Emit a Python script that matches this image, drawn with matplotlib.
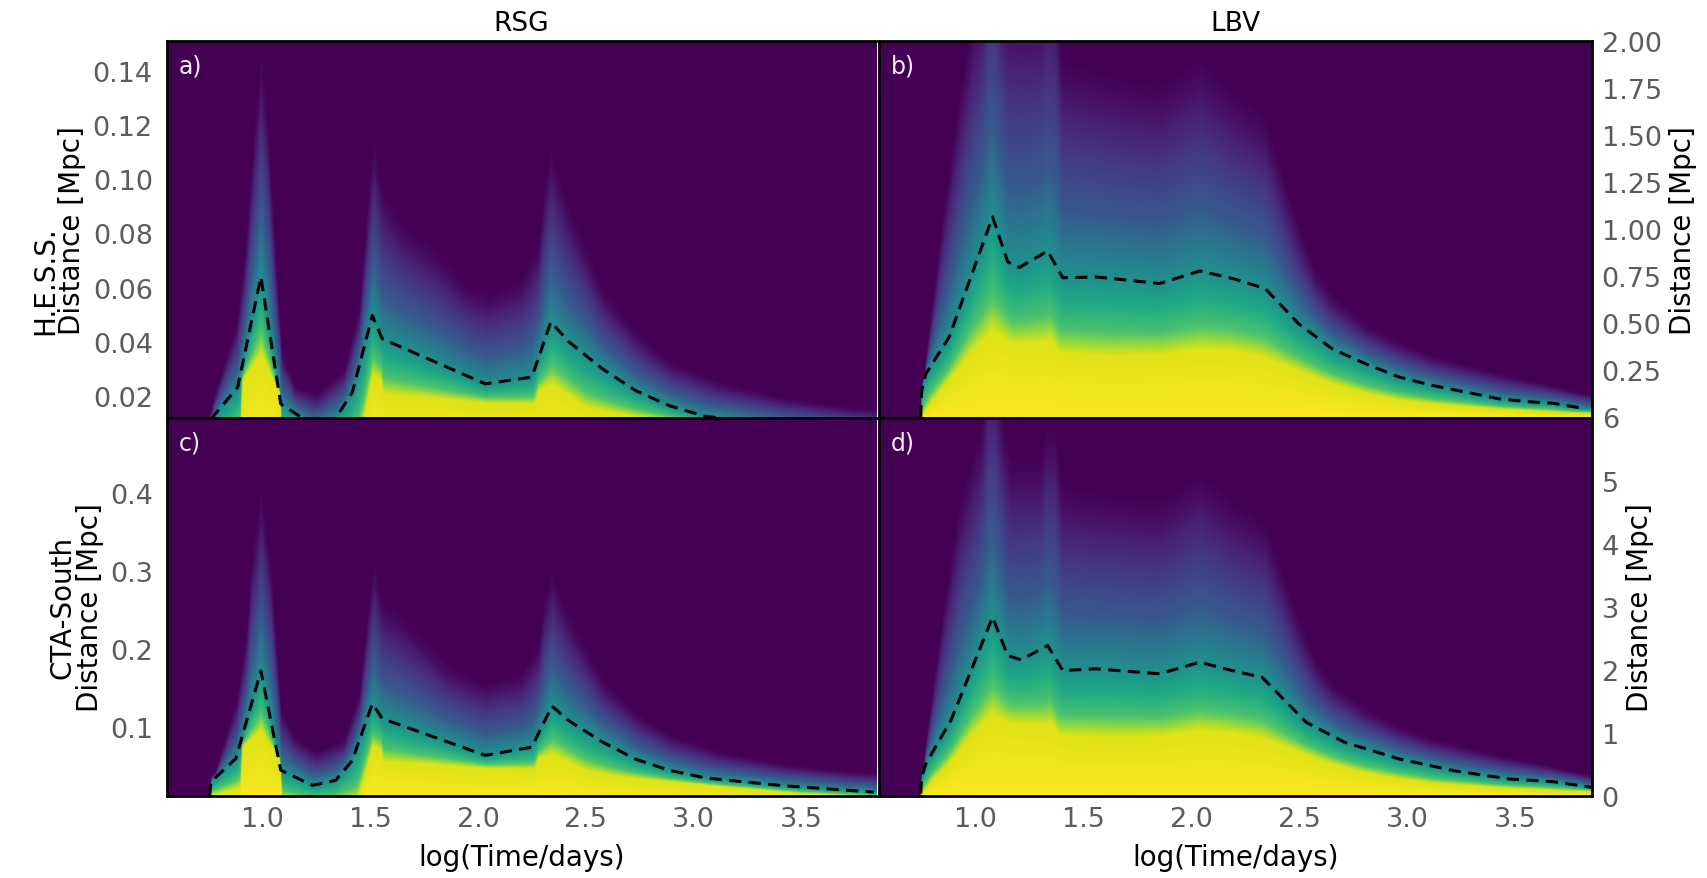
import numpy as np
import matplotlib
matplotlib.use("Agg")
import matplotlib.pyplot as plt

# ---------------- values ----------------
xticks = [1.0, 1.5, 2.0, 2.5, 3.0, 3.5]
xticklabels = ["1.0", "1.5", "2.0", "2.5", "3.0", "3.5"]
col_titles = ["RSG", "LBV"]
row_labels = ["H.E.S.S.\nDistance [Mpc]", "CTA-South\nDistance [Mpc]"]
right_label = "Distance [Mpc]"
x_label = "log(Time/days)"
panel_tags = ["a)", "b)", "c)", "d)"]

xlim_left = (0.556, 3.849)
xlim_right = (0.553, 3.855)

# ---- panel a : RSG, H.E.S.S. ----
a_ylim = (0.0121, 0.151)
a_yticks = [0.02, 0.04, 0.06, 0.08, 0.10, 0.12, 0.14]
a_yticklabels = ["0.02", "0.04", "0.06", "0.08", "0.10", "0.12", "0.14"]
a_start = 0.755
a_line_x = [0.761, 0.885, 0.993, 1.085, 1.232, 1.340, 1.417, 1.510, 1.556, 2.034, 2.250,
            2.338, 2.423, 2.578, 2.732, 2.886, 3.056, 3.421, 3.837]
a_line_d = [0.0115, 0.0232, 0.0639, 0.0171, 0.0095, 0.0119, 0.0213, 0.0497, 0.0411, 0.0245, 0.0270,
            0.0473, 0.0399, 0.0300, 0.0220, 0.0165, 0.0125, 0.0093, 0.0063]
a_sat_x = [0.755, 0.895, 0.905, 0.993, 1.08, 1.09, 1.25, 1.44, 1.47, 1.51, 1.55, 1.56, 2.05,
           2.26, 2.28, 2.346, 2.50, 2.655, 2.886, 3.2, 3.5, 3.85]
a_sat_d = [0.0, 0.006, 0.026, 0.0356, 0.021, 0.003, 0.002, 0.004, 0.012, 0.028, 0.026, 0.021, 0.0175,
           0.0171, 0.022, 0.0245, 0.016, 0.0134, 0.011, 0.008, 0.0055, 0.004]
a_tail_x = [0.755, 0.78, 0.88, 0.915, 0.966, 0.993, 1.023, 1.062, 1.09, 1.15, 1.25, 1.38, 1.45,
            1.494, 1.517, 1.556, 1.65, 1.80, 1.95, 2.05, 2.20, 2.28, 2.31, 2.338, 2.38, 2.423,
            2.578, 2.732, 2.886, 3.118, 3.426, 3.735, 3.85]
a_tail_d = [0.012, 0.020, 0.044, 0.065, 0.114, 0.135, 0.114, 0.065, 0.034, 0.022, 0.019, 0.028, 0.050,
            0.090, 0.106, 0.088, 0.077, 0.068, 0.056, 0.053, 0.058, 0.070, 0.090, 0.103, 0.092, 0.0823,
            0.0553, 0.0405, 0.0306, 0.0233, 0.0177, 0.0146, 0.0140]

# ---- panel b : LBV, H.E.S.S. ----
b_ylim = (0.0, 2.0)
b_yticks = [0.25, 0.50, 0.75, 1.00, 1.25, 1.50, 1.75, 2.00]
b_yticklabels = ["0.25", "0.50", "0.75", "1.00", "1.25", "1.50", "1.75", "2.00"]
b_start = 0.746
b_line_x = [0.746, 0.750, 0.770, 0.878, 1.079, 1.149, 1.203, 1.334, 1.404, 1.559, 1.853, 2.039,
            2.200, 2.342, 2.496, 2.651, 2.806, 2.961, 3.115, 3.270, 3.425, 3.580, 3.673, 3.827]
b_line_d = [0.0, 0.14, 0.232, 0.427, 1.065, 0.826, 0.796, 0.884, 0.742, 0.746, 0.711, 0.778,
            0.735, 0.684, 0.498, 0.365, 0.285, 0.215, 0.170, 0.135, 0.099, 0.082, 0.076, 0.046]
b_sat_x = [0.746, 0.80, 0.862, 0.986, 1.079, 1.126, 1.172, 1.327, 1.345, 1.389, 1.636, 1.868,
           2.039, 2.187, 2.317, 2.496, 2.651, 2.806, 2.961, 3.115, 3.425, 3.735, 3.85]
b_sat_d = [0.0, 0.09, 0.179, 0.356, 0.462, 0.427, 0.392, 0.40, 0.42, 0.347, 0.33, 0.338,
           0.365, 0.356, 0.33, 0.25, 0.18, 0.13, 0.095, 0.073, 0.046, 0.028, 0.025]
b_tail_x = [0.746, 0.77, 0.85, 0.93, 0.985, 1.03, 1.06, 1.09, 1.125, 1.16, 1.30, 1.33,
            1.37, 1.40, 1.6, 1.85, 2.04, 2.187, 2.342, 2.419, 2.496, 2.574, 2.651, 2.806,
            2.961, 3.115, 3.425, 3.657, 3.85]
b_tail_d = [0.02, 0.30, 1.0, 1.6, 1.95, 2.1, 2.45, 2.45, 2.15, 2.02, 2.02, 2.15,
            2.12, 1.75, 1.68, 1.62, 1.76, 1.60, 1.47, 1.207, 0.941, 0.728, 0.604, 0.462,
            0.374, 0.303, 0.215, 0.161, 0.11]

# ---- panel c : RSG, CTA-South ----
c_ylim = (0.012, 0.496)
c_yticks = [0.1, 0.2, 0.3, 0.4]
c_yticklabels = ["0.1", "0.2", "0.3", "0.4"]
c_start = 0.755
c_line_x = [0.755, 0.761, 0.877, 0.993, 1.085, 1.232, 1.340, 1.417, 1.510, 1.556, 2.034, 2.250,
            2.343, 2.423, 2.578, 2.732, 2.886, 3.056, 3.421, 3.837]
c_line_d = [0.012, 0.030, 0.060, 0.172, 0.045, 0.0256, 0.032, 0.0575, 0.130, 0.111, 0.064, 0.0745,
            0.127, 0.108, 0.081, 0.059, 0.045, 0.035, 0.025, 0.017]
c_sat_x = [0.755, 0.895, 0.905, 0.993, 1.08, 1.09, 1.25, 1.44, 1.47, 1.51, 1.55, 1.56, 2.05,
           2.26, 2.28, 2.346, 2.50, 2.655, 2.886, 3.2, 3.5, 3.85]
c_sat_d = [0.012, 0.022, 0.075, 0.095, 0.058, 0.008, 0.003, 0.008, 0.035, 0.075, 0.07, 0.056, 0.047,
           0.046, 0.06, 0.066, 0.044, 0.036, 0.030, 0.022, 0.015, 0.011]
c_tail_x = [0.755, 0.78, 0.88, 0.923, 0.946, 0.993, 1.039, 1.062, 1.085, 1.15, 1.25, 1.38, 1.45,
            1.494, 1.517, 1.556, 1.633, 1.864, 2.034, 2.20, 2.28, 2.31, 2.343, 2.38, 2.423,
            2.578, 2.732, 2.886, 3.118, 3.426, 3.735, 3.85]
c_tail_d = [0.015, 0.040, 0.126, 0.198, 0.283, 0.372, 0.283, 0.198, 0.113, 0.080, 0.062, 0.078, 0.135,
            0.243, 0.287, 0.238, 0.224, 0.164, 0.143, 0.155, 0.189, 0.243, 0.276, 0.248, 0.222,
            0.149, 0.109, 0.083, 0.063, 0.048, 0.039, 0.037]

# ---- panel d : LBV, CTA-South ----
d_ylim = (0.0, 6.0)
d_yticks = [0, 1, 2, 3, 4, 5, 6]
d_yticklabels = ["0", "1", "2", "3", "4", "5", "6"]
d_start = 0.746
d_line_x = [0.746, 0.750, 0.770, 0.886, 1.079, 1.149, 1.211, 1.334, 1.404, 1.559, 1.853, 2.039,
            2.187, 2.328, 2.532, 2.710, 2.963, 3.217, 3.472, 3.675, 3.853]
d_line_d = [0.04, 0.30, 0.512, 1.198, 2.834, 2.227, 2.158, 2.385, 1.989, 2.016, 1.937, 2.121,
            1.99, 1.879, 1.167, 0.85, 0.586, 0.40, 0.269, 0.227, 0.137]
d_sat_x = [0.746, 0.80, 0.862, 0.986, 1.079, 1.126, 1.172, 1.327, 1.345, 1.389, 1.636, 1.868,
           2.039, 2.187, 2.317, 2.496, 2.651, 2.806, 2.961, 3.115, 3.425, 3.735, 3.85]
d_sat_d = [0.0, 0.25, 0.45, 0.98, 1.30, 1.20, 1.145, 1.12, 1.17, 0.96, 0.93, 0.95,
           1.04, 1.0, 0.93, 0.70, 0.50, 0.36, 0.27, 0.20, 0.13, 0.08, 0.07]
d_tail_x = [0.746, 0.77, 0.85, 0.93, 0.985, 1.03, 1.06, 1.09, 1.125, 1.16, 1.30, 1.33,
            1.37, 1.40, 1.6, 1.85, 2.04, 2.187, 2.342, 2.419, 2.496, 2.574, 2.651, 2.806,
            2.961, 3.115, 3.425, 3.657, 3.85]
d_tail_d = [0.05, 0.80, 2.70, 4.30, 4.9, 5.4, 6.5, 6.5, 5.5, 4.9, 4.9, 5.4,
            5.35, 4.5, 4.4, 4.3, 4.7, 4.30, 3.97, 3.30, 2.60, 2.00, 1.65, 1.28,
            1.02, 0.83, 0.59, 0.44, 0.30]


# ---------------- field built from the read curves ----------------
def detection_map(xg, dg, x_start, sx, sd, lx, ld, tx, td):
    S = np.interp(xg, sx, sd)
    M = np.interp(xg, lx, ld)
    T = np.interp(xg, tx, td)
    S = np.maximum(S, 1e-6)
    M = np.maximum(M, S * 1.1 + 1e-6)
    T = np.maximum(T, M * 1.2)
    Z = np.zeros((dg.size, xg.size))
    vals = [1.0, 0.95, 0.72, 0.5, 0.28, 0.04, 0.0]
    for j in range(xg.size):
        if xg[j] < x_start:
            continue
        s, m, t = S[j], M[j], T[j]
        knots = [0.0, s, s + 0.3 * (m - s), m, m + 0.35 * (t - m), t, t * 1.1]
        Z[:, j] = np.interp(dg, knots, vals)
    return Z


panels = [
    dict(ylim=a_ylim, yt=a_yticks, ytl=a_yticklabels, start=a_start, line=(a_line_x, a_line_d),
         sat=(a_sat_x, a_sat_d), tail=(a_tail_x, a_tail_d), xlim=xlim_left),
    dict(ylim=b_ylim, yt=b_yticks, ytl=b_yticklabels, start=b_start, line=(b_line_x, b_line_d),
         sat=(b_sat_x, b_sat_d), tail=(b_tail_x, b_tail_d), xlim=xlim_right),
    dict(ylim=c_ylim, yt=c_yticks, ytl=c_yticklabels, start=c_start, line=(c_line_x, c_line_d),
         sat=(c_sat_x, c_sat_d), tail=(c_tail_x, c_tail_d), xlim=xlim_left),
    dict(ylim=d_ylim, yt=d_yticks, ytl=d_yticklabels, start=d_start, line=(d_line_x, d_line_d),
         sat=(d_sat_x, d_sat_d), tail=(d_tail_x, d_tail_d), xlim=xlim_right),
]

W, H = 1708, 879
fig = plt.figure(figsize=(W / 100, H / 100), dpi=100)

# axes rectangles in pixels: (left, top, right, bottom)
rects = [(166.7, 41.7, 876.5, 418.5), (879.0, 41.7, 1592.0, 418.5),
         (166.7, 418.5, 876.5, 797.0), (879.0, 418.5, 1592.0, 797.0)]

tick_color = "#5c5c5c"
for i, (p, r) in enumerate(zip(panels, rects)):
    l, t, rr, b = r
    ax = fig.add_axes([l / W, 1 - b / H, (rr - l) / W, (b - t) / H])
    xg = np.linspace(p["xlim"][0], p["xlim"][1], 1400)
    dg = np.linspace(p["ylim"][0], p["ylim"][1], 700)
    Z = detection_map(xg, dg, p["start"], *p["sat"], *p["line"], *p["tail"])
    ax.imshow(Z, origin="lower", aspect="auto", cmap="viridis", vmin=0, vmax=1,
              extent=(p["xlim"][0], p["xlim"][1], p["ylim"][0], p["ylim"][1]),
              interpolation="bilinear")
    ax.plot(p["line"][0], p["line"][1], color="black", ls="--", lw=2.2, dashes=(4.0, 2.4))
    ax.set_xlim(*p["xlim"])
    ax.set_ylim(*p["ylim"])
    ax.set_yticks(p["yt"])
    ax.set_yticklabels(p["ytl"])
    ax.set_xticks(xticks)
    ax.tick_params(length=0, labelsize=19.5, labelcolor=tick_color)
    ax.tick_params(axis="x", pad=7)
    ax.tick_params(axis="y", pad=10 if i % 2 == 0 else 7)
    if i >= 2:
        ax.set_xticklabels(xticklabels)
        ax.set_xlabel(x_label, fontsize=20, labelpad=8)
    else:
        ax.set_xticklabels([])
        ax.set_title(col_titles[i], fontsize=19, pad=8)
    if i % 2 == 1:
        ax.yaxis.tick_right()
        ax.yaxis.set_label_position("right")
        ax.set_ylabel(right_label, fontsize=20, labelpad=5)
    else:
        ax.set_ylabel(row_labels[i // 2], fontsize=20, labelpad=4.5, linespacing=0.95,
                      multialignment="left" if i == 0 else "center")
    for side, sp in ax.spines.items():
        sp.set_color("black")
        sp.set_linewidth(2.0)
    if i % 2 == 0:
        ax.spines["right"].set_visible(False)
    ax.text(0.017, 0.965, panel_tags[i], transform=ax.transAxes, ha="left", va="top",
            fontsize=17, color="#f4ecf6")

fig.savefig("out.png", dpi=100)
